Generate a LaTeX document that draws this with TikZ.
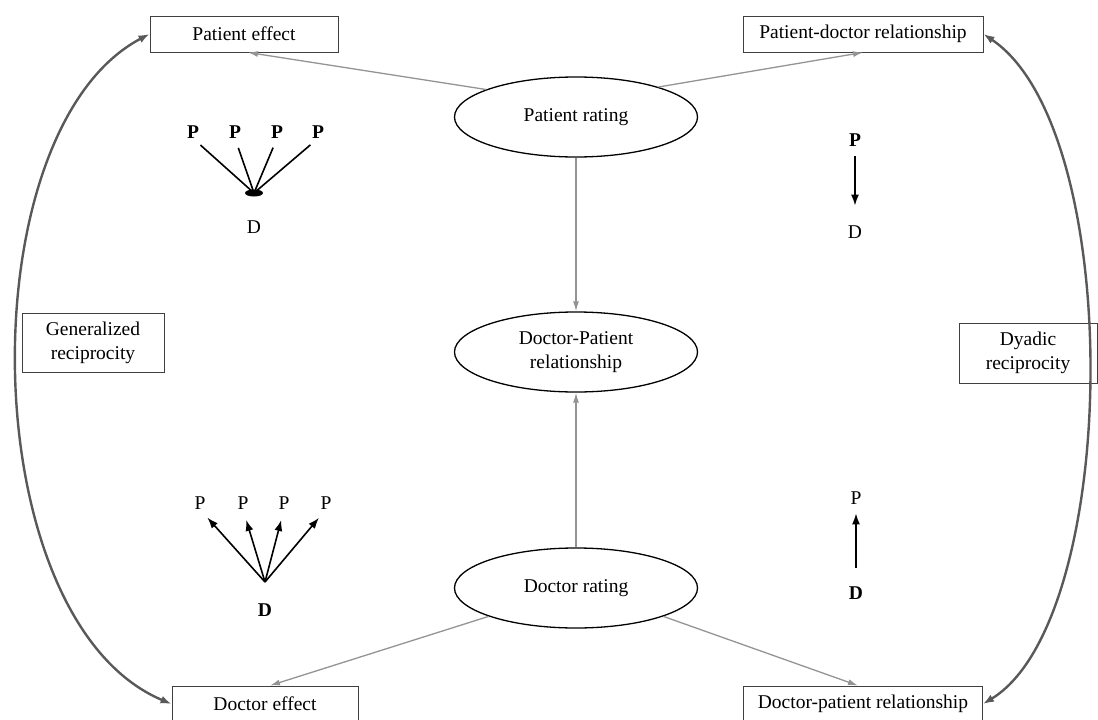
\documentclass[tikz,border=0pt]{standalone}
\usepackage{fontspec}
\setmainfont{Liberation Serif}
\usetikzlibrary{arrows.meta,shapes.geometric}
\begin{document}
\begin{tikzpicture}[x=1pt,y=-1pt,
  every node/.style={font=\fontsize{19.5}{24}\selectfont},
  box/.style={draw=black!75, line width=0.9pt, minimum height=36pt, inner sep=0pt, align=center},
  oval/.style={ellipse, draw=black, line width=1.3pt, minimum width=243pt, minimum height=80pt, inner sep=0pt, align=center},
  garr/.style={draw=black!42, line width=1.3pt, -{Latex[length=10pt,width=6pt]}},
  curve/.style={draw=black!65, line width=2.4pt, {Latex[length=11pt,width=8pt]}-{Latex[length=11pt,width=8pt]}},
  lbl/.style={inner sep=0pt, outer sep=0pt},
  blbl/.style={inner sep=0pt, outer sep=0pt, font=\fontsize{19.5}{24}\selectfont\bfseries},
  mline/.style={line width=1.6pt},
  marr/.style={line width=1.6pt, -{Latex[length=11pt,width=8pt]}},
]
\useasboundingbox (0,0) rectangle (1098,720);

\node[box, minimum width=188pt] (pe) at (244,34) {Patient effect};
\node[box, minimum width=240pt] (pdr) at (863,34) {Patient-doctor relationship};
\node[box, minimum width=186pt] (de) at (265,704) {Doctor effect};
\node[box, minimum width=239pt] (dpr) at (863,704) {Doctor-patient relationship};
\node[box, minimum width=142pt, minimum height=59pt] (gr) at (93,342.5) {Generalized\\reciprocity};
\node[box, minimum width=138pt, minimum height=60pt] (dyr) at (1028,353) {Dyadic\\reciprocity};

\node[oval] (pr) at (576,117) {Patient rating};
\node[oval] (dp) at (576,352) {Doctor-Patient\\relationship};
\node[oval] (dr) at (576,588) {Doctor rating};

\draw[garr] (pr.163) -- ([xshift=4pt]pe.south);
\draw[garr] (pr.20) -- (pdr.south);
\draw[garr] (pr.south) -- (dp.north);
\draw[garr] (dr.north) -- (dp.south);
\draw[garr] (dr.198) -- ([xshift=5pt]de.north);
\draw[garr] (dr.342) -- ([xshift=-5pt]dpr.north);

\draw[curve] (pe.west) .. controls (-33,130) and (-28,620) .. (de.west);
\draw[curve] (pdr.east) .. controls (1126,130) and (1121,620) .. (dpr.east);

% top-left mini diagram
\node[blbl] (tp1) at (193,132) {P};
\node[blbl] (tp2) at (235,132) {P};
\node[blbl] (tp3) at (277,132) {P};
\node[blbl] (tp4) at (318,132) {P};
\node[lbl] (td) at (254,227) {D};
\coordinate (hub1) at (254,193);
\foreach \n in {tp1,tp2,tp3,tp4}
  \draw[mline, shorten <=10pt] (\n.south) -- (hub1);
\fill (hub1) ellipse [x radius=9, y radius=3.5];

% bottom-left mini diagram
\node[lbl] (bp1) at (200,503) {P};
\node[lbl] (bp2) at (243,503) {P};
\node[lbl] (bp3) at (284,503) {P};
\node[lbl] (bp4) at (326,503) {P};
\node[blbl] (bd) at (265,610) {D};
\coordinate (hub2) at (265,582);
\foreach \n in {bp1,bp2,bp3,bp4}
  \draw[marr, shorten >=11pt] (hub2) -- (\n.south);

% top-right mini diagram
\node[blbl] (rp1) at (855,140) {P};
\node[lbl] (rd1) at (855,232) {D};
\draw[marr, shorten <=10pt, shorten >=20pt] (rp1.south) -- (rd1.north);

% bottom-right mini diagram
\node[lbl] (rp2) at (856,498) {P};
\node[blbl] (rd2) at (856,593) {D};
\draw[marr, shorten <=19pt, shorten >=9pt] (rd2.north) -- (rp2.south);
\end{tikzpicture}
\end{document}
